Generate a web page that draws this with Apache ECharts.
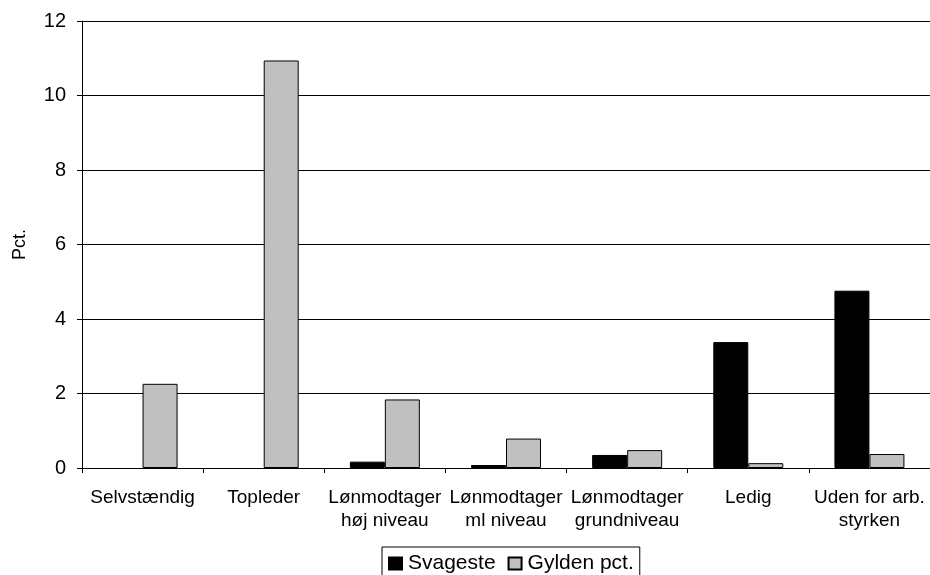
<!DOCTYPE html>
<html>
<head>
<meta charset="utf-8">
<script src="https://cdn.jsdelivr.net/npm/echarts@6/dist/echarts.min.js"></script>
<style>
html,body{margin:0;padding:0;background:#fff;}
#chart{width:930px;height:575px;}
</style>
</head>
<body>
<div id="chart"></div>
<script>
const categories = ["Selvstændig", "Topleder", "Lønmodtager\nhøj niveau", "Lønmodtager\nml niveau", "Lønmodtager\ngrundniveau", "Ledig", "Uden for arb.\nstyrken"];
const svageste = [0, 0, 0.17, 0.08, 0.35, 3.38, 4.76];
const gylden = [2.26, 10.94, 1.84, 0.79, 0.48, 0.13, 0.375];
const yTicks = { min: 0, max: 12, interval: 2 };

// zero values are not drawn as bars in the reference
const asBars = arr => arr.map(v => (v === 0 ? null : v));

const font = "Liberation Sans, Arial, sans-serif";
const chart = echarts.init(document.getElementById('chart'), null, { renderer: 'canvas' });
chart.setOption({
  animation: false,
  backgroundColor: '#fff',
  textStyle: { fontFamily: font, color: '#000' },
  grid: { left: 82, right: 0, top: 21, bottom: 107, containLabel: false },
  legend: {
    top: 547,
    left: 382,
    itemWidth: 13,
    itemHeight: 12,
    itemGap: 12,
    icon: 'rect',
    borderColor: '#000',
    borderWidth: 1,
    borderRadius: 0,
    padding: [6, 6, 20, 6],
    textStyle: { fontSize: 21, color: '#000', fontFamily: font, padding: [0, 0, 0, 1] },
    data: ['Svageste', 'Gylden pct.']
  },
  xAxis: {
    type: 'category',
    data: categories,
    axisLine: { lineStyle: { color: '#000', width: 1 } },
    axisTick: { show: true, length: 5, alignWithLabel: false, lineStyle: { color: '#000' } },
    axisLabel: { interval: 0, fontSize: 19, color: '#000', margin: 18, lineHeight: 23, fontFamily: font }
  },
  yAxis: {
    type: 'value',
    min: yTicks.min,
    max: yTicks.max,
    interval: yTicks.interval,
    name: 'Pct.',
    nameLocation: 'middle',
    nameGap: 53,
    nameRotate: 90,
    nameTextStyle: { fontSize: 18, color: '#000', fontFamily: font },
    axisLine: { show: true, lineStyle: { color: '#000', width: 1 } },
    axisTick: { show: true, length: 5, lineStyle: { color: '#000' } },
    axisLabel: { fontSize: 20, color: '#000', margin: 16, fontFamily: font },
    splitLine: { show: true, lineStyle: { color: '#000', width: 1 } }
  },
  series: [
    {
      name: 'Svageste',
      type: 'bar',
      data: asBars(svageste),
      barWidth: 35,
      barGap: '0%',
      itemStyle: { color: '#000000', borderColor: '#000', borderWidth: 1 }
    },
    {
      name: 'Gylden pct.',
      type: 'bar',
      data: asBars(gylden),
      barWidth: 35,
      barGap: '0%',
      itemStyle: { color: '#c0c0c0', borderColor: '#000', borderWidth: 1 }
    }
  ]
});
</script>
</body>
</html>
